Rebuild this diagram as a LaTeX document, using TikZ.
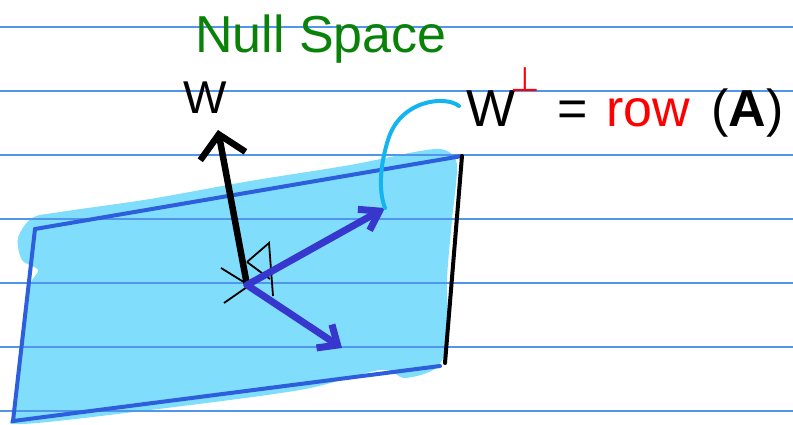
\documentclass[tikz,border=0pt]{standalone}
\usepackage{fontspec}
\setmainfont{Liberation Sans}
\newfontfamily\symfont{DejaVu Sans}
\usetikzlibrary{arrows.meta}
\definecolor{ruled}{RGB}{80,150,235}
\definecolor{planefill}{RGB}{128,222,252}
\definecolor{planeedge}{RGB}{45,95,220}
\definecolor{vecblue}{RGB}{55,55,205}
\definecolor{hookcyan}{RGB}{20,180,240}
\definecolor{nsgreen}{RGB}{10,130,10}
\tikzset{
  rl/.style={ruled,line width=1.3pt},
  pl/.style={planeedge,line width=4pt,line cap=round},
  nv/.style={line width=6.5pt,line cap=round,-{Straight Barb[length=22pt,width=46pt]}},
  rv/.style={vecblue,line width=7pt,line cap=round},
  ra/.style={line width=1.8pt},
  hk/.style={hookcyan,line width=4pt,line cap=round},
  lb/.style={font=\fontsize{46}{48}\selectfont,inner sep=0pt},
  big/.style={font=\fontsize{52}{56}\selectfont,inner sep=0pt,anchor=base west}
}

\begin{document}
\begin{tikzpicture}[x=1pt,y=-1pt]
\useasboundingbox (0,0) rectangle (793,424);
% the shaded plane
\fill[planefill] plot[smooth cycle,tension=0.5] coordinates {(38,270) (22,260) (18,238) (32,218) (60,212) (150,199) (250,181) (350,165) (420,151) (445,150) (457,165) (452,220) (447,280) (448,340) (436,368) (405,378) (380,370) (300,390) (150,410) (20,424) (14,410) (22,330) (30,285)};
\foreach \y in {27,91,155,219,283,347,411} \draw[rl] (0,\y) -- (793,\y);
\coordinate (tl) at (35,229); \coordinate (tr) at (462,156);
\coordinate (bl) at (13,421); \coordinate (br) at (440,366);
\coordinate (rb) at (445,363);
\draw[pl] (tl) -- (tr);
\draw[pl] (tl) -- (bl) -- (br);
\draw[line width=4pt,line cap=round] (tr) -- (rb);
% vectors
\coordinate (o) at (247,285);
\coordinate (wtip) at (218,130);
\coordinate (v1) at (385,208); \coordinate (v2) at (342,348);
\draw[ra] (221,268) -- (247,284); \draw[ra] (224,303) -- (247,287);
\draw[ra] (247,262) -- (269,243) -- (273,296); \draw[ra] (247,262) -- (270,279);
\draw[nv] (o) -- (wtip);
\draw[rv,-{Straight Barb[length=18pt,width=24pt]}] (o) -- (v1);
\draw[rv,-{Straight Barb[length=16pt,width=28pt]}] (o) -- (v2);
% labels
\node[big,nsgreen] (ns) at (195,52) {Null Space};
\node[lb] (wlab) at (205,98) {W};
\node[big] (wperp) at (466,126) {W};
\node[font=\fontsize{34}{34}\selectfont\symfont,red,inner sep=0pt] (perp) at (525,80) {⊥};
\node[big] (eq) at (557,126) {=};
\node[big,red] (rowtxt) at (606,126) {row};
\node[big] (argA) at (711,126) {(\textbf{A})};
\coordinate (hook) at (459,106);
\draw[hk] (hook) .. controls (445,95) and (400,100) .. (388,140) .. controls (378,172) and (380,195) .. (v1);
\end{tikzpicture}
\end{document}
